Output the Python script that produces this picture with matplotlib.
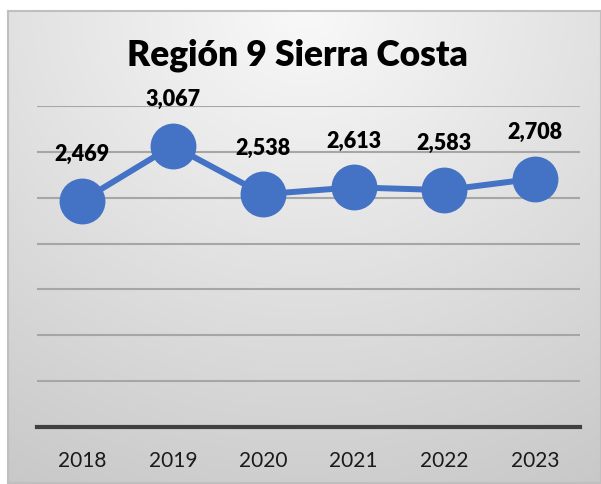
import numpy as np
import matplotlib
matplotlib.use("Agg")
import matplotlib.pyplot as plt

years = ["2018", "2019", "2020", "2021", "2022", "2023"]
values = [2469, 3067, 2538, 2613, 2583, 2708]
value_labels = ["2,469", "3,067", "2,538", "2,613", "2,583", "2,708"]
title = "Región 9 Sierra Costa"

W, H = 601, 485
fig = plt.figure(figsize=(W / 100, H / 100), dpi=100)
fig.patch.set_facecolor("white")

# background panel with radial gradient
bg = fig.add_axes([8 / W, 1 - 484 / H, (W - 8) / W, (484 - 12) / H])
yy, xx = np.mgrid[0:1:300j, 0:1:400j]
r = np.sqrt(((xx - 0.5) * 1.0) ** 2 + ((yy - 0.0) * 0.9) ** 2)
r = r / r.max()
shade = 0.975 - 0.19 * r
img = np.dstack([shade, shade, shade])
bg.imshow(img, extent=[0, 1, 0, 1], aspect="auto", origin="upper")
bg.set_xlim(0, 1)
bg.set_ylim(0, 1)
bg.set_xticks([])
bg.set_yticks([])
for s in bg.spines.values():
    s.set_color("#bfbfbf")
    s.set_linewidth(1.5)

left, right, top, bottom = 37, 580, 107, 428
ax = fig.add_axes([left / W, 1 - bottom / H, (right - left) / W, (bottom - top) / H])
ax.patch.set_alpha(0)
x = np.arange(len(years))
ax.set_xlim(-0.5, len(years) - 0.5)
ax.set_ylim(0, 3500)
ax.set_yticks(np.arange(500, 3501, 500))
ax.yaxis.grid(True, color="#a6a6a6", linewidth=1.5)
ax.set_axisbelow(True)
ax.tick_params(axis="y", left=False, labelleft=False)
ax.tick_params(axis="x", bottom=False, pad=13)
ax.set_xticks(x)
ax.set_xticklabels(years, fontsize=15, family="Lato", color="#1a1a1a")
for k in ["top", "left", "right"]:
    ax.spines[k].set_visible(False)
ax.spines["bottom"].set_color("#404040")
ax.spines["bottom"].set_linewidth(3)

ax.plot(x, values, color="#4472C4", linewidth=4.3, marker="o", markersize=32,
        markerfacecolor="#4472C4", markeredgecolor="#4472C4", clip_on=False, zorder=3)
for xi, v, lab in zip(x, values, value_labels):
    ax.annotate(lab, (xi, v), xytext=(0, 34), textcoords="offset points",
                ha="center", va="center", fontsize=15.5, fontweight="heavy",
                family="Lato", color="black")

fig.text(297 / W, 1 - 55 / H, title, ha="center", va="center", fontsize=25.5,
         fontweight="heavy", family="Lato", color="black")

fig.savefig("out.png", dpi=100)
